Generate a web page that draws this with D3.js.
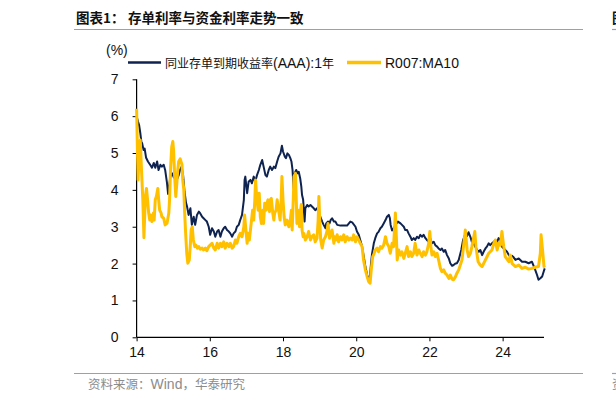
<!DOCTYPE html>
<html><head><meta charset="utf-8">
<script src="https://cdn.jsdelivr.net/npm/d3@7"></script>
<style>
html,body{margin:0;padding:0;background:#fff;}
svg{display:block;}
</style></head>
<body>
<svg id="c" width="616" height="403"></svg>
<script>
// ---- data ----
const titleLabel = "图表1：";
const titleText = "存单利率与资金利率走势一致";
const sourceParts = ["资料来源：", "Wind", "，华泰研究"];
const seriesNames = [["同业存单到期收益率", "(AAA):1", "年"], ["", "R007:MA10", ""]];
const xTicks = [14, 16, 18, 20, 22, 24];
const yTicks = [0, 1, 2, 3, 4, 5, 6, 7];

const cdX = [14.00,14.04,14.07,14.10,14.13,14.15,14.19,14.22,14.26,14.31,14.37,14.42,14.47,14.51,14.56,14.60,14.65,14.69,14.74,14.78,14.83,14.86,14.89,14.92,14.97,15.01,15.06,15.10,15.15,15.19,15.23,15.27,15.31,15.35,15.38,15.42,15.47,15.51,15.56,15.60,15.65,15.70,15.74,15.79,15.83,15.88,15.92,15.97,16.01,16.06,16.11,16.15,16.20,16.24,16.29,16.33,16.38,16.42,16.47,16.52,16.56,16.61,16.65,16.70,16.74,16.79,16.83,16.88,16.93,16.95,16.97,17.00,17.02,17.06,17.11,17.15,17.20,17.24,17.29,17.34,17.38,17.43,17.47,17.52,17.56,17.61,17.65,17.70,17.75,17.79,17.84,17.88,17.93,17.97,18.00,18.05,18.08,18.12,18.16,18.20,18.23,18.26,18.29,18.32,18.36,18.40,18.43,18.47,18.50,18.52,18.55,18.57,18.59,18.61,18.66,18.70,18.75,18.79,18.84,18.88,18.93,18.98,19.02,19.07,19.11,19.16,19.18,19.23,19.27,19.30,19.34,19.39,19.43,19.48,19.57,19.66,19.75,19.80,19.84,19.89,19.98,20.02,20.07,20.11,20.16,20.20,20.25,20.30,20.34,20.37,20.40,20.43,20.48,20.52,20.57,20.61,20.66,20.70,20.75,20.80,20.84,20.89,20.92,20.94,20.98,21.02,21.07,21.14,21.21,21.25,21.30,21.34,21.39,21.43,21.48,21.52,21.57,21.61,21.66,21.71,21.75,21.80,21.84,21.89,21.93,21.98,22.02,22.07,22.12,22.16,22.21,22.25,22.30,22.34,22.39,22.43,22.48,22.53,22.57,22.62,22.66,22.71,22.75,22.80,22.87,22.92,22.98,23.03,23.07,23.12,23.16,23.21,23.25,23.30,23.35,23.39,23.44,23.48,23.53,23.57,23.62,23.66,23.71,23.76,23.80,23.85,23.89,23.94,23.98,24.03,24.07,24.12,24.17,24.21,24.26,24.30,24.35,24.44,24.53,24.62,24.71,24.80,24.89,24.94,24.98,25.03,25.08,25.12,25.15];
const cdY = [6.00,5.85,5.75,5.55,5.30,5.27,5.08,5.12,4.87,4.77,4.68,4.60,4.73,4.60,4.77,4.54,4.68,4.63,4.68,4.54,4.19,3.89,4.10,4.35,4.45,4.35,4.30,4.27,4.40,4.55,4.63,4.40,3.95,3.65,3.54,3.32,3.50,3.05,3.27,3.05,3.32,3.41,3.36,3.27,3.23,3.18,3.14,3.00,2.78,2.96,2.87,2.73,2.87,2.91,2.73,2.87,2.96,3.00,2.91,2.87,2.82,2.73,2.82,2.87,3.00,3.05,3.18,3.32,3.73,4.27,4.36,4.09,3.91,4.22,4.27,4.18,4.36,4.22,4.40,4.54,4.68,4.81,4.63,4.40,4.36,4.54,4.63,4.54,4.63,4.59,4.77,4.90,4.99,5.20,5.04,4.90,4.86,4.99,4.95,4.86,4.77,4.54,4.04,4.45,4.54,4.45,4.49,4.31,4.09,3.86,3.73,3.45,3.14,3.50,3.59,3.55,3.59,3.55,3.50,3.45,3.50,3.36,3.27,3.14,3.05,2.96,3.09,3.14,3.09,3.18,3.23,3.14,3.14,3.05,3.03,3.03,3.03,3.09,3.14,3.12,3.00,2.87,2.78,2.64,2.46,2.23,1.92,1.69,1.56,1.60,1.95,2.25,2.55,2.69,2.82,2.86,2.96,3.00,3.09,3.18,3.27,3.32,3.23,3.05,2.90,2.95,3.05,3.14,3.09,3.05,3.00,2.91,2.91,2.82,2.73,2.64,2.69,2.64,2.73,2.69,2.78,2.73,2.78,2.69,2.64,2.59,2.69,2.55,2.59,2.50,2.46,2.41,2.37,2.41,2.32,2.37,2.23,2.14,2.01,1.94,1.96,2.00,2.01,2.10,2.37,2.64,2.80,2.75,2.85,2.72,2.59,2.55,2.46,2.37,2.32,2.37,2.23,2.32,2.41,2.46,2.55,2.50,2.55,2.59,2.64,2.59,2.69,2.64,2.46,2.41,2.37,2.32,2.23,2.19,2.21,2.17,2.10,2.14,2.05,2.05,2.01,2.05,1.83,1.69,1.56,1.60,1.65,1.78,1.87];

const rX = [14.00,14.01,14.04,14.07,14.10,14.13,14.17,14.20,14.24,14.27,14.30,14.33,14.36,14.38,14.42,14.46,14.48,14.51,14.54,14.58,14.60,14.63,14.67,14.69,14.74,14.78,14.83,14.88,14.90,14.93,14.96,14.99,15.01,15.04,15.07,15.10,15.12,15.15,15.19,15.24,15.26,15.29,15.31,15.34,15.37,15.40,15.44,15.47,15.49,15.52,15.55,15.59,15.62,15.66,15.70,15.74,15.79,15.83,15.88,15.92,15.97,16.01,16.06,16.11,16.15,16.20,16.24,16.29,16.33,16.38,16.42,16.47,16.52,16.56,16.61,16.65,16.70,16.74,16.79,16.83,16.88,16.93,16.95,16.99,17.02,17.04,17.08,17.13,17.17,17.20,17.23,17.25,17.28,17.32,17.35,17.38,17.41,17.45,17.47,17.50,17.54,17.56,17.59,17.63,17.65,17.68,17.72,17.75,17.77,17.81,17.84,17.88,17.92,17.95,17.97,18.00,18.03,18.06,18.11,18.16,18.20,18.23,18.25,18.28,18.30,18.34,18.36,18.38,18.43,18.45,18.47,18.50,18.52,18.55,18.57,18.61,18.66,18.70,18.75,18.79,18.84,18.88,18.93,18.96,18.98,19.00,19.03,19.07,19.11,19.16,19.20,19.23,19.27,19.30,19.34,19.39,19.41,19.45,19.48,19.52,19.57,19.61,19.66,19.70,19.75,19.80,19.84,19.89,19.93,19.98,20.02,20.07,20.11,20.16,20.20,20.25,20.30,20.34,20.38,20.41,20.45,20.48,20.52,20.57,20.61,20.66,20.70,20.75,20.80,20.84,20.89,20.93,20.98,21.02,21.07,21.10,21.12,21.16,21.21,21.25,21.30,21.34,21.39,21.43,21.48,21.52,21.57,21.61,21.66,21.71,21.75,21.80,21.84,21.89,21.93,21.98,22.01,22.04,22.07,22.12,22.16,22.21,22.25,22.30,22.34,22.39,22.43,22.48,22.53,22.57,22.62,22.66,22.71,22.75,22.80,22.89,22.93,22.98,23.03,23.07,23.12,23.16,23.24,23.27,23.33,23.39,23.44,23.53,23.62,23.71,23.76,23.80,23.85,23.89,23.94,23.98,24.03,24.07,24.17,24.21,24.26,24.35,24.44,24.53,24.62,24.71,24.80,24.89,24.98,25.03,25.05,25.09,25.13,25.15];
const rY = [6.20,5.71,4.27,5.08,5.35,4.63,3.73,2.70,3.82,4.04,3.73,3.37,3.18,3.32,3.14,3.37,3.18,3.73,3.82,4.04,3.77,3.45,3.37,3.27,3.23,3.05,3.09,3.37,3.73,4.63,5.17,5.31,5.08,4.36,3.82,4.18,4.49,4.77,4.84,4.68,4.27,4.00,3.45,2.82,2.28,2.01,2.10,2.55,2.91,3.00,2.64,2.46,2.50,2.42,2.46,2.39,2.42,2.37,2.42,2.35,2.46,2.50,2.55,2.42,2.37,2.55,2.42,2.55,2.46,2.59,2.42,2.55,2.46,2.55,2.42,2.46,2.64,2.55,2.73,2.82,2.73,3.00,3.32,2.87,2.55,2.82,2.64,3.09,3.45,3.18,3.73,4.27,3.82,3.45,3.91,3.27,3.09,3.45,3.09,3.64,3.45,3.64,3.73,3.41,3.73,3.77,3.37,3.18,3.37,3.45,3.73,3.45,3.18,3.73,4.36,3.73,3.27,3.05,3.18,3.00,3.18,3.45,2.91,3.73,4.36,4.45,3.82,3.09,3.45,3.00,3.37,3.60,2.91,2.73,2.82,2.64,2.73,2.87,2.64,2.73,2.78,2.59,2.69,3.18,3.82,3.27,2.64,2.42,2.64,2.73,2.87,3.09,2.69,2.78,2.91,2.55,2.73,2.64,2.78,2.59,2.73,2.64,2.78,2.59,2.73,2.64,2.69,2.64,2.78,2.59,2.73,2.64,2.55,2.46,2.10,1.83,1.64,1.51,1.47,1.83,2.19,2.25,2.37,2.42,2.32,2.46,2.42,2.50,2.73,2.55,2.46,2.28,2.55,2.46,3.37,2.64,2.10,2.37,2.23,2.32,2.14,2.28,2.46,2.19,2.32,2.19,2.28,2.55,2.23,2.37,2.28,2.19,2.32,2.23,2.32,2.55,2.87,2.46,2.23,2.32,2.19,2.28,2.10,1.87,1.78,1.83,1.74,1.69,1.60,1.69,1.58,1.56,1.64,1.74,1.83,2.10,2.46,2.91,2.37,2.19,2.28,2.46,2.87,2.46,2.05,1.96,1.92,2.10,2.28,2.37,2.55,2.64,2.37,2.55,2.50,2.87,2.46,2.19,2.05,2.23,2.00,1.92,1.96,1.87,1.90,1.85,1.87,1.90,1.92,2.28,2.78,2.37,1.92,1.95];

// ---- drawing ----
const svg = d3.select("#c");
const latin = "'Liberation Sans Narrow','Liberation Sans',Arial,sans-serif";
const cjkF = "'Noto Sans CJK SC',sans-serif";
const navy = "#0f2350", gold = "#ffc000", rule = "#8ea3c4";

const x = d3.scaleLinear().domain([14, 25.13]).range([136.6, 544]);
const y = d3.scaleLinear().domain([0, 7]).range([337.3, 79.3]);

// title & rules
svg.append("text").attr("x", 76).attr("y", 23).attr("font-family", cjkF)
  .attr("font-weight", "bold").attr("font-size", 13.5).attr("fill", "#111").text(titleLabel);
svg.append("text").attr("x", 128).attr("y", 23).attr("font-family", cjkF)
  .attr("font-weight", "bold").attr("font-size", 13.5).attr("fill", "#111").text(titleText);
svg.append("text").attr("x", 612).attr("y", 23).attr("font-family", cjkF)
  .attr("font-weight", "bold").attr("font-size", 13.5).attr("fill", "#111").text("图");
[[74, 583], [612, 620]].forEach(([a, b]) => {
  svg.append("line").attr("x1", a).attr("x2", b).attr("y1", 29.5).attr("y2", 29.5).attr("stroke", rule).attr("stroke-width", 1.2);
  svg.append("line").attr("x1", a).attr("x2", b).attr("y1", 373.5).attr("y2", 373.5).attr("stroke", rule).attr("stroke-width", 1.2);
});
const src = svg.append("text").attr("x", 88).attr("y", 389).attr("fill", "#8c8c8c");
sourceParts.forEach((t, i) => src.append("tspan")
  .attr("font-family", i === 1 ? latin : cjkF).attr("font-size", i === 1 ? 14 : 12.5).text(t));
svg.append("text").attr("x", 612).attr("y", 389).attr("font-family", cjkF).attr("font-size", 12.5)
  .attr("fill", "#8c8c8c").text("资");

// unit
svg.append("text").attr("x", 106).attr("y", 55).attr("font-family", latin).attr("font-size", 14).attr("fill", "#111").text("(%)");

// legend
const leg = [[128, 161, navy, 2.5, 165, seriesNames[0]], [347, 381, gold, 3.5, 385, seriesNames[1]]];
leg.forEach(([a, b, c, w, tx, parts]) => {
  svg.append("line").attr("x1", a).attr("x2", b).attr("y1", 62.5).attr("y2", 62.5).attr("stroke", c).attr("stroke-width", w);
  const t = svg.append("text").attr("x", tx).attr("y", 68).attr("fill", "#111");
  parts.forEach((p, i) => { if (p) t.append("tspan")
    .attr("font-family", i === 1 ? latin : cjkF).attr("font-size", i === 1 ? 14 : 12).text(p); });
});

// axes
const yAxis = svg.append("g").attr("transform", "translate(136.6,0)")
  .call(d3.axisLeft(y).tickValues(yTicks).tickSize(4).tickPadding(14).tickFormat(d3.format("d")));
const xAxis = svg.append("g").attr("transform", "translate(0,337.3)")
  .call(d3.axisBottom(x).tickValues(xTicks).tickSize(4).tickPadding(6).tickFormat(d3.format("d")));
[yAxis, xAxis].forEach(g => {
  g.select(".domain").attr("stroke", "#000").attr("stroke-width", 1.2);
  g.selectAll(".tick line").attr("stroke", "#000").attr("stroke-width", 1);
  g.selectAll(".tick text").attr("font-family", latin).attr("font-size", 14).attr("fill", "#111");
});
yAxis.select(".domain").attr("d", `M0,${y(7)}V${y(0)}`);
xAxis.select(".domain").attr("d", `M${x(14)},0H${x(25.13)}`);

// lines
const line = d3.line().x(d => x(d[0])).y(d => y(d[1]));
const cd = cdX.map((v, i) => [v, cdY[i]]);
const r = rX.map((v, i) => [v, rY[i]]);
svg.append("path").datum(cd).attr("d", line).attr("fill", "none").attr("stroke", navy)
  .attr("stroke-width", 2).attr("stroke-linejoin", "round");
svg.append("path").datum(r).attr("d", line).attr("fill", "none").attr("stroke", gold)
  .attr("stroke-width", 3).attr("stroke-linejoin", "round");
</script>
</body></html>
